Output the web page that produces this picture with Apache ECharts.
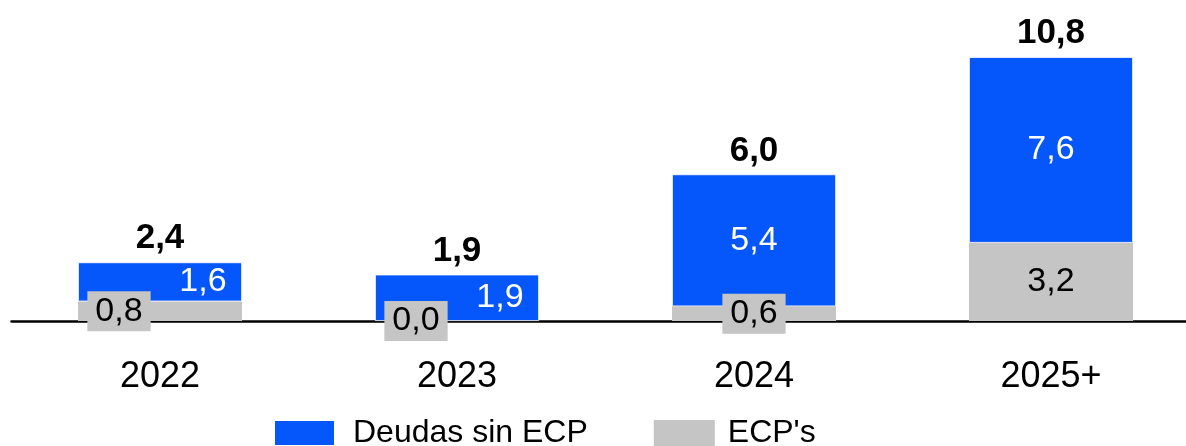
<!DOCTYPE html>
<html>
<head>
<meta charset="utf-8">
<script src="https://cdn.jsdelivr.net/npm/echarts@6/dist/echarts.min.js"></script>
<style>
  html, body { margin: 0; padding: 0; background: #fff; overflow: hidden; }
  #chart { width: 1200px; height: 446px; }
</style>
</head>
<body>
<div id="chart"></div>
<script>
// Maturity profile by year (billions)
const categories = ['2022', '2023', '2024', '2025+'];
const deudasSinEcp = [1.6, 1.9, 5.4, 7.6];
const ecps = [0.8, 0.0, 0.6, 3.2];
const totals = [2.4, 1.9, 6.0, 10.8];

const BLUE = '#0657fb';
const GREY = '#c5c5c5';
const FONT = '"Liberation Sans", Arial, sans-serif';

const fmt = v => Number(v).toFixed(1).replace('.', ',');

// Short bars carry their two labels side by side instead of stacked
const shortBar = [true, true, false, false];

const chart = echarts.init(document.getElementById('chart'));

chart.setOption({
  animation: false,
  grid: { left: 11.5, width: 1188, top: 27.7, bottom: 125 },
  legend: {
    left: 268,
    top: 412,
    itemWidth: 61,
    itemHeight: 26,
    itemGap: 66,
    icon: 'rect',
    data: [
      { name: 'Deudas sin ECP', textStyle: { padding: [0, 0, 0, 13] } },
      { name: "ECP's", textStyle: { padding: [0, 0, 0, 8] } }
    ],
    textStyle: { fontFamily: FONT, fontSize: 32, color: '#000' }
  },
  xAxis: {
    type: 'category',
    data: categories,
    axisTick: { show: false },
    axisLine: { lineStyle: { color: '#000', width: 2.5 } },
    axisLabel: { fontFamily: FONT, fontSize: 36, color: '#000', margin: 38 }
  },
  yAxis: { type: 'value', min: 0, max: 12, show: false },
  series: [
    {
      name: "ECP's",
      type: 'bar',
      stack: 'total',
      barWidth: 164,
      z: 3,
      itemStyle: { color: GREY },
      data: ecps.map((v, i) => ({
        value: v,
        label: shortBar[i] ? { offset: [-41, 0] } : {}
      })),
      label: {
        show: true,
        position: 'inside',
        formatter: p => fmt(p.value),
        fontFamily: FONT,
        fontSize: 34,
        color: '#000',
        backgroundColor: GREY,
        padding: [3, 8, 3, 8]
      }
    },
    {
      name: 'Deudas sin ECP',
      type: 'bar',
      stack: 'total',
      barWidth: 164,
      z: 2,
      itemStyle: { color: BLUE, borderColor: '#fff', borderWidth: 0.8 },
      data: deudasSinEcp.map((v, i) => ({
        value: v,
        label: shortBar[i] ? { offset: [43, 0] } : {}
      })),
      label: {
        show: true,
        position: 'inside',
        formatter: p => fmt(p.value),
        fontFamily: FONT,
        fontSize: 34,
        color: '#fff'
      }
    },
    {
      name: 'Total',
      type: 'bar',
      barWidth: 164,
      barGap: '-100%',
      silent: true,
      z: 1,
      itemStyle: { color: 'rgba(0,0,0,0)' },
      data: totals,
      label: {
        show: true,
        position: 'top',
        distance: 6,
        formatter: p => fmt(p.value),
        fontFamily: FONT,
        fontSize: 35,
        fontWeight: 'bold',
        color: '#000'
      }
    }
  ]
});
</script>
</body>
</html>
